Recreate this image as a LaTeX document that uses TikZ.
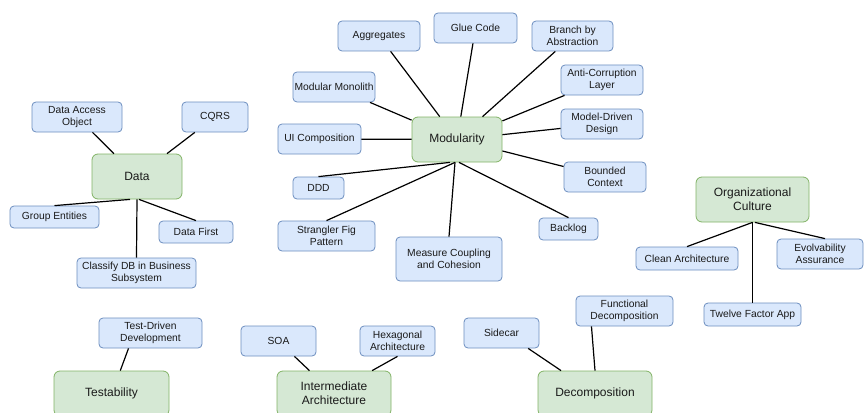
\documentclass[tikz,border=0pt]{standalone}
\usepackage{fontspec}
\setmainfont{Liberation Sans}
\usepackage{xcolor}
\usepackage{tikz}
\definecolor{leafbg}{HTML}{DAE8FC}
\definecolor{leafline}{HTML}{6C8EBF}
\definecolor{hubbg}{HTML}{D5E8D4}
\definecolor{hubline}{HTML}{82B366}
\definecolor{ink}{HTML}{1A1A1A}
\newcommand{\leaffont}{\fontsize{10.3}{11.8}\selectfont}
\newcommand{\hubfont}{\fontsize{12}{14.2}\selectfont}
\tikzset{
  leaf/.style={draw=leafline, fill=leafbg, line width=0.8pt, rounded corners=4pt, inner sep=0pt, align=center, text=ink, font=\leaffont},
  hub/.style={draw=hubline, fill=hubbg, line width=0.8pt, rounded corners=6pt, inner sep=0pt, align=center, text=ink, font=\hubfont},
  link/.style={draw=black, line width=1.2pt},
}

\begin{document}
\begin{tikzpicture}[x=1pt,y=-1pt]
  \useasboundingbox (0,0) rectangle (864,412);
  % data
  \node[hub, minimum width=90, minimum height=45] (data) at (137,176.5) {Data};
  \node[leaf, minimum width=90, minimum height=30] (dao) at (77,117) {Data Access\\Object};
  \node[leaf, minimum width=66, minimum height=30] (cqrs) at (215,117) {CQRS};
  \node[leaf, minimum width=89, minimum height=22] (group) at (54.5,217) {Group Entities};
  \node[leaf, minimum width=74, minimum height=22] (dfirst) at (196,232) {Data First};
  \node[leaf, minimum width=119, minimum height=30] (classify) at (136.5,273) {Classify DB in Business\\Subsystem};
  \draw[link] (dao) -- (data);
  \draw[link] (cqrs) -- (data);
  \draw[link] (group.north) -- (data.-107);
  \draw[link] (dfirst.north) -- (data.-85);
  \draw[link] (classify.north) -- (data.south);
  % modularity
  \node[hub, minimum width=90, minimum height=45] (mod) at (457,139.5) {Modularity};
  \node[leaf, minimum width=82, minimum height=30] (aggr) at (379,36) {Aggregates};
  \node[leaf, minimum width=83, minimum height=30] (glue) at (475.5,28) {Glue Code};
  \node[leaf, minimum width=81, minimum height=30] (branch) at (572.5,36) {Branch by\\Abstraction};
  \node[leaf, minimum width=82, minimum height=30] (monolith) at (334,87) {Modular Monolith};
  \node[leaf, minimum width=82, minimum height=30] (acl) at (602,80) {Anti-Corruption\\Layer};
  \node[leaf, minimum width=83, minimum height=30] (ui) at (319.5,139) {UI Composition};
  \node[leaf, minimum width=82, minimum height=30] (mdd) at (602,124) {Model-Driven\\Design};
  \node[leaf, minimum width=82, minimum height=30] (bounded) at (605,177) {Bounded\\Context};
  \node[leaf, minimum width=51, minimum height=22] (ddd) at (318.5,188) {DDD};
  \node[leaf, minimum width=97, minimum height=30] (strangler) at (326.5,236) {Strangler Fig\\Pattern};
  \node[leaf, minimum width=106, minimum height=44] (measure) at (449,259) {Measure Coupling\\and Cohesion};
  \node[leaf, minimum width=59, minimum height=22] (backlog) at (568.5,229) {Backlog};
  \draw[link] (aggr) -- (mod);
  \draw[link] (glue) -- (mod);
  \draw[link] (branch) -- (mod);
  \draw[link] (monolith) -- (mod);
  \draw[link] (acl) -- (mod);
  \draw[link] (ui) -- (mod);
  \draw[link] (mdd) -- (mod);
  \draw[link] (bounded) -- (mod);
  \draw[link] (ddd.north) -- (mod.-107);
  \draw[link] (strangler.north) -- (mod.-95);
  \draw[link] (measure.north) -- (mod.-95);
  \draw[link] (backlog.north) -- (mod.-85);
  % testability
  \node[hub, minimum width=115, minimum height=45] (test) at (111.5,393.5) {Testability};
  \node[leaf, minimum width=103, minimum height=30] (tdd) at (150.5,333) {Test-Driven\\Development};
  \draw[link] (tdd.-145) -- (test.69);
  % intermediate architecture
  \node[hub, minimum width=114, minimum height=45] (inter) at (334,393.5) {Intermediate\\Architecture};
  \node[leaf, minimum width=75, minimum height=30] (soa) at (278.5,341) {SOA};
  \node[leaf, minimum width=75, minimum height=30] (hex) at (397.5,341) {Hexagonal\\Architecture};
  \draw[link] (soa.-44) -- (inter.137);
  \draw[link] (hex.south) -- (inter.31);
  % decomposition
  \node[hub, minimum width=114, minimum height=45] (decomp) at (595,393.5) {Decomposition};
  \node[leaf, minimum width=75, minimum height=30] (sidecar) at (501.5,333) {Sidecar};
  \node[leaf, minimum width=97, minimum height=30] (func) at (624.5,311) {Functional\\Decomposition};
  \draw[link] (sidecar.-30) -- (decomp.146);
  \draw[link] (func.-155) -- (decomp.north);
  % organizational culture
  \node[hub, minimum width=113, minimum height=45] (org) at (752.5,199.5) {Organizational\\Culture};
  \node[leaf, minimum width=102, minimum height=23] (clean) at (687,258.5) {Clean Architecture};
  \node[leaf, minimum width=86, minimum height=30] (evol) at (820,254) {Evolvability\\Assurance};
  \node[leaf, minimum width=97, minimum height=23] (twelve) at (752.5,314.5) {Twelve Factor App};
  \draw[link] (org.south) -- (clean.north);
  \draw[link] (org.-84) -- (evol.72);
  \draw[link] (org.south) -- (twelve.north);
\end{tikzpicture}
\end{document}
